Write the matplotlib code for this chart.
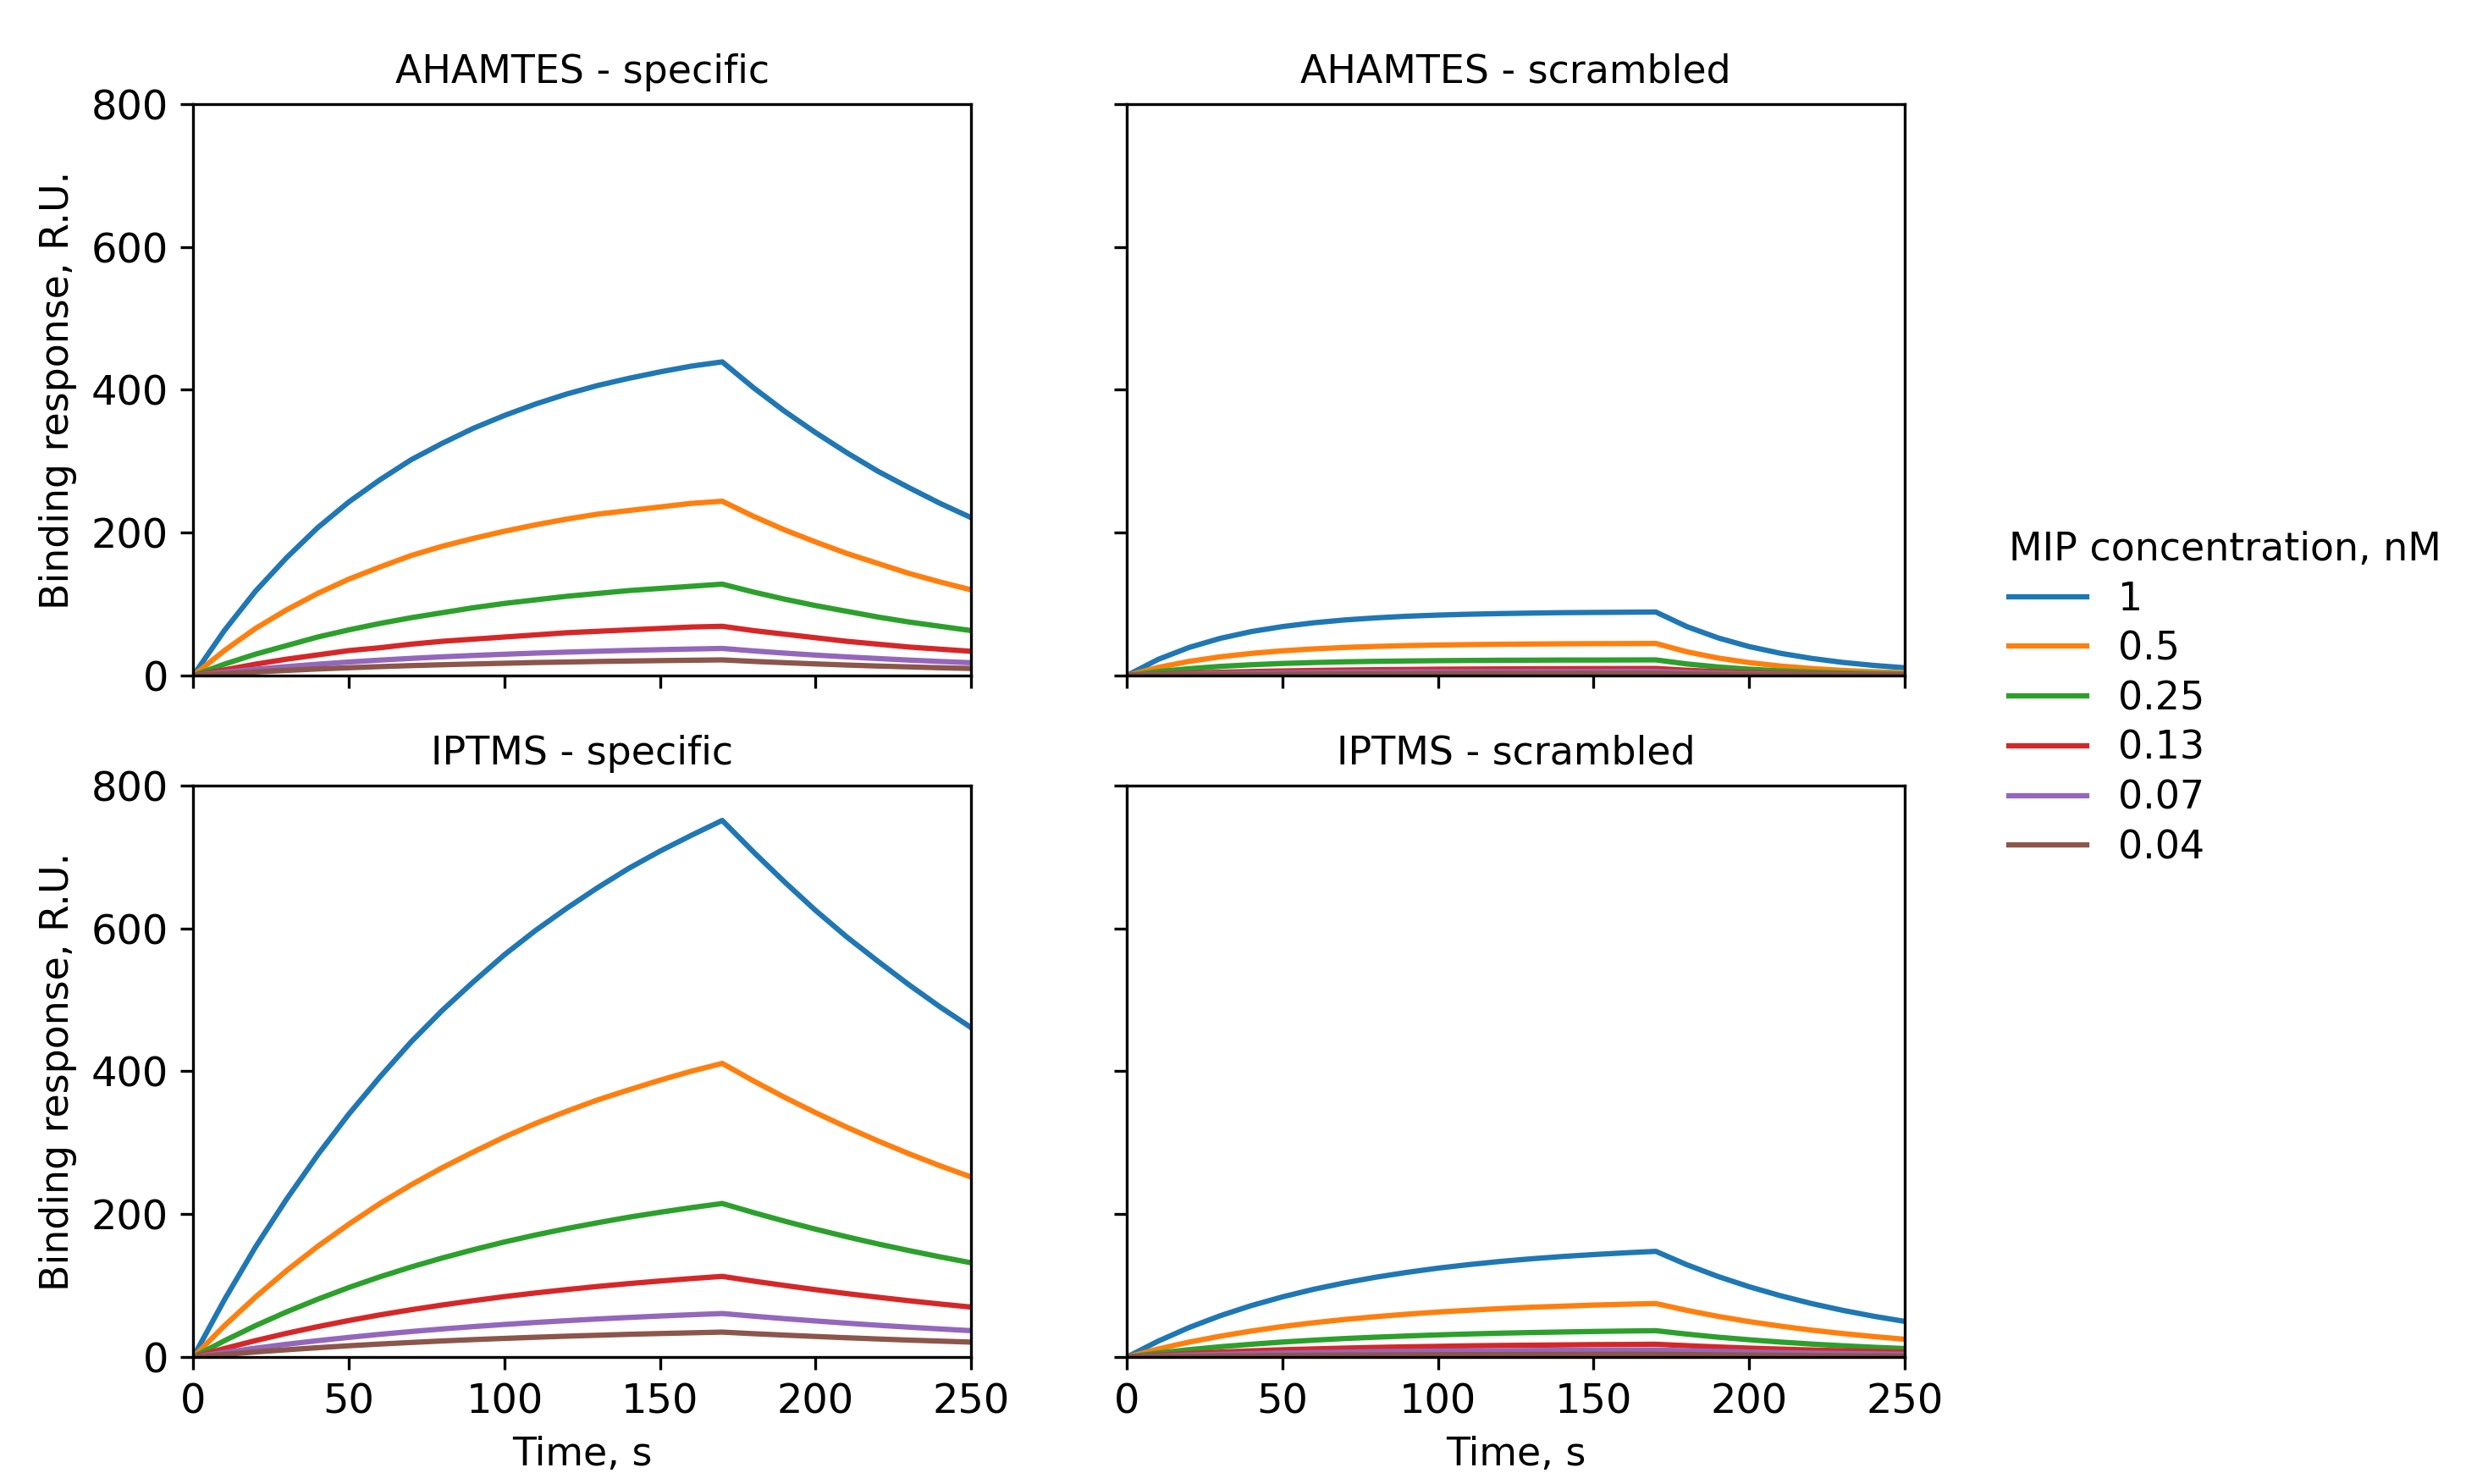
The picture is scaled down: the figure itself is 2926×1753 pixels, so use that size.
import matplotlib
matplotlib.use("Agg")
import matplotlib.pyplot as plt

# time points, s (association up to 170 s, then dissociation)
time = [0, 10, 20, 30, 40, 50, 60, 70, 80, 90, 100, 110, 120, 130, 140, 150, 160, 170,
        180, 190, 200, 210, 220, 230, 240, 250]

concentrations = ['1', '0.5', '0.25', '0.13', '0.07', '0.04']

# AHAMTES - specific
ahamtes_spec_1 = [0, 63, 118, 165, 207, 243, 274, 302, 325, 346, 364, 380, 394, 406, 416, 425, 433, 439,
                  403, 370, 340, 312, 286, 263, 241, 221]
ahamtes_spec_05 = [0, 35, 66, 92, 115, 135, 152, 168, 181, 192, 202, 211, 219, 226, 231, 236, 241, 244,
                   223, 204, 187, 171, 157, 143, 131, 120]
ahamtes_spec_025 = [0, 16, 30, 42, 54, 64, 73, 81, 88, 95, 101, 106, 111, 115, 119, 122, 125, 128,
                    117, 107, 98, 90, 82, 75, 69, 63]
ahamtes_spec_013 = [0, 8, 16, 23, 29, 35, 39, 44, 48, 51, 54, 57, 60, 62, 64, 66, 68, 69,
                    63, 58, 53, 48, 44, 40, 37, 34]
ahamtes_spec_007 = [0, 4.7, 8.9, 12.6, 16, 19, 21.7, 24.1, 26.3, 28.2, 29.9, 31.5, 32.9, 34.1, 35.3, 36.3, 37.2, 38,
                    34.6, 31.5, 28.7, 26.2, 23.9, 21.7, 19.8, 18]
ahamtes_spec_004 = [0, 2.7, 5.1, 7.3, 9.3, 11, 12.6, 14, 15.2, 16.3, 17.3, 18.3, 19, 19.8, 20.4, 21, 21.5, 22,
                    19.9, 18.1, 16.4, 14.8, 13.4, 12.2, 11, 10]

# AHAMTES - scrambled
ahamtes_scr_1 = [0, 22.6, 39.4, 52.1, 61.6, 68.6, 73.9, 77.9, 80.8, 83.1, 84.7, 85.9, 86.8, 87.5, 88.1, 88.4, 88.7, 89,
                 68.5, 52.8, 40.6, 31.3, 24.1, 18.5, 14.3, 11]
ahamtes_scr_05 = [0, 11.4, 19.9, 26.3, 31.1, 34.7, 37.4, 39.4, 40.9, 42, 42.8, 43.4, 43.9, 44.2, 44.5, 44.7, 44.8, 45,
                  33.3, 24.6, 18.2, 13.4, 9.9, 7.3, 5.4, 4.0]
ahamtes_scr_025 = [0, 5.6, 9.7, 12.9, 15.2, 17, 18.3, 19.3, 20, 20.5, 20.9, 21.2, 21.5, 21.6, 21.8, 21.8, 21.9, 22,
                   16.3, 12.1, 9, 6.6, 4.9, 3.7, 2.7, 2.0]
ahamtes_scr_013 = [0, 1.9, 3.4, 4.7, 5.7, 6.5, 7.2, 7.8, 8.3, 8.6, 9, 9.2, 9.4, 9.6, 9.7, 9.8, 9.9, 10,
                   7.5, 5.6, 4.2, 3.2, 2.4, 1.8, 1.3, 1.0]
ahamtes_scr_007 = [0, 1.1, 2, 2.8, 3.4, 3.9, 4.3, 4.7, 5, 5.2, 5.4, 5.5, 5.6, 5.7, 5.8, 5.9, 6, 6,
                   4.5, 3.4, 2.5, 1.9, 1.4, 1.1, 0.8, 0.6]
ahamtes_scr_004 = [0, 0.6, 1, 1.4, 1.7, 2, 2.2, 2.3, 2.5, 2.6, 2.7, 2.8, 2.9, 2.9, 2.9, 3, 3, 3,
                   2.3, 1.7, 1.3, 1, 0.7, 0.5, 0.4, 0.3]

# IPTMS - specific
iptms_spec_1 = [0, 80, 154, 221, 283, 340, 392, 441, 485, 525, 563, 597, 628, 657, 684, 708, 730, 751,
                707, 665, 625, 588, 554, 521, 490, 461]
iptms_spec_05 = [0, 43.8, 84, 121, 155, 186, 215, 241, 265, 287, 308, 327, 344, 360, 374, 387.5, 400, 411,
                 386.6, 363.6, 342, 321.7, 302.6, 284.6, 267.7, 252]
iptms_spec_025 = [0, 22.9, 44, 63.3, 81, 97.4, 112.4, 126.1, 138.7, 150.3, 161.1, 170.9, 179.9, 188.1, 195.8, 202.7, 209.1, 215,
                  202.3, 190.3, 179, 168.4, 158.4, 149.1, 140.3, 132]
iptms_spec_013 = [0, 12, 23.1, 33.3, 42.6, 51.2, 59.1, 66.3, 72.9, 79, 84.7, 89.8, 94.5, 98.9, 102.9, 106.5, 109.9, 113,
                  106.4, 100.3, 94.4, 88.9, 83.8, 78.9, 74.3, 70]
iptms_spec_007 = [0, 6.5, 12.5, 18, 23, 27.6, 31.9, 35.8, 39.4, 42.7, 45.7, 48.5, 51, 53.4, 55.5, 57.5, 59.3, 61,
                  57.3, 53.8, 50.6, 47.5, 44.6, 41.9, 39.4, 37]
iptms_spec_004 = [0, 3.7, 7.2, 10.3, 13.2, 15.9, 18.3, 20.5, 22.6, 24.5, 26.2, 27.8, 29.3, 30.6, 31.9, 33, 34, 35,
                  32.8, 30.8, 28.9, 27.1, 25.4, 23.8, 22.4, 21]

# IPTMS - scrambled
iptms_scr_1 = [0, 22.2, 41.4, 57.9, 72.1, 84.3, 94.9, 103.9, 111.8, 118.6, 124.5, 129.5, 133.9, 137.6, 140.8, 143.5, 145.9, 148,
               129.2, 112.8, 98.5, 86, 75, 65.5, 57.2, 50]
iptms_scr_05 = [0, 11.3, 21, 29.3, 36.5, 42.8, 48.1, 52.7, 56.6, 60.1, 63.1, 65.6, 67.9, 69.8, 71.3, 72.8, 74, 75,
                65.4, 57, 49.7, 43.4, 37.8, 33, 28.8, 25]
iptms_scr_025 = [0, 5.6, 10.4, 14.5, 18, 21.1, 23.7, 26, 27.9, 29.6, 31.1, 32.4, 33.5, 34.4, 35.2, 35.9, 36.5, 37,
                 32.2, 27.9, 24.3, 21.1, 18.3, 15.9, 13.8, 12]
iptms_scr_013 = [0, 2.7, 5, 7, 8.8, 10.3, 11.5, 12.6, 13.6, 14.4, 15.1, 15.8, 16.3, 16.7, 17.1, 17.5, 17.7, 18,
                 16, 14.2, 12.6, 11.2, 10, 8.9, 7.9, 7]
iptms_scr_007 = [0, 1.5, 2.8, 3.9, 4.9, 5.7, 6.4, 7, 7.6, 8, 8.4, 8.8, 9, 9.3, 9.5, 9.7, 9.9, 10,
                 8.9, 8, 7.1, 6.3, 5.6, 5, 4.5, 4]
iptms_scr_004 = [0, 0.6, 1.1, 1.6, 1.9, 2.3, 2.6, 2.8, 3, 3.2, 3.4, 3.5, 3.6, 3.7, 3.8, 3.9, 4, 4,
                 3.6, 3.2, 2.8, 2.5, 2.2, 1.9, 1.7, 1.5]

panels = [
    ('AHAMTES - specific', [ahamtes_spec_1, ahamtes_spec_05, ahamtes_spec_025,
                            ahamtes_spec_013, ahamtes_spec_007, ahamtes_spec_004]),
    ('AHAMTES - scrambled', [ahamtes_scr_1, ahamtes_scr_05, ahamtes_scr_025,
                             ahamtes_scr_013, ahamtes_scr_007, ahamtes_scr_004]),
    ('IPTMS - specific', [iptms_spec_1, iptms_spec_05, iptms_spec_025,
                          iptms_spec_013, iptms_spec_007, iptms_spec_004]),
    ('IPTMS - scrambled', [iptms_scr_1, iptms_scr_05, iptms_scr_025,
                           iptms_scr_013, iptms_scr_007, iptms_scr_004]),
]

fig, axes = plt.subplots(2, 2, sharex=True, sharey=True, figsize=(2926 / 300, 1753 / 300), dpi=300)
fig.subplots_adjust(left=0.078, right=0.769, bottom=0.0855, top=0.930, wspace=0.2, hspace=0.192)

for ax, (title, series) in zip(axes.flat, panels):
    for values, conc in zip(series, concentrations):
        ax.plot(time, values, label=conc)
    ax.set_title(title, fontsize=11)
    ax.set_xlim(0, 250)
    ax.set_ylim(0, 800)
    ax.set_xticks([0, 50, 100, 150, 200, 250])
    ax.set_yticks([0, 200, 400, 600, 800])
    ax.tick_params(labelsize=11.5)

for ax in axes[:, 0]:
    ax.set_ylabel('Binding response, R.U.', fontsize=11)
for ax in axes[1, :]:
    ax.set_xlabel('Time, s', fontsize=11)

handles, labels = axes[0, 0].get_legend_handles_labels()
fig.legend(handles, labels, title='MIP concentration, nM', frameon=False,
           loc='center left', bbox_to_anchor=(0.797, 0.529), fontsize=11, title_fontsize=11,
           labelspacing=0.3, alignment='left')

fig.savefig('out.png', dpi=300)
